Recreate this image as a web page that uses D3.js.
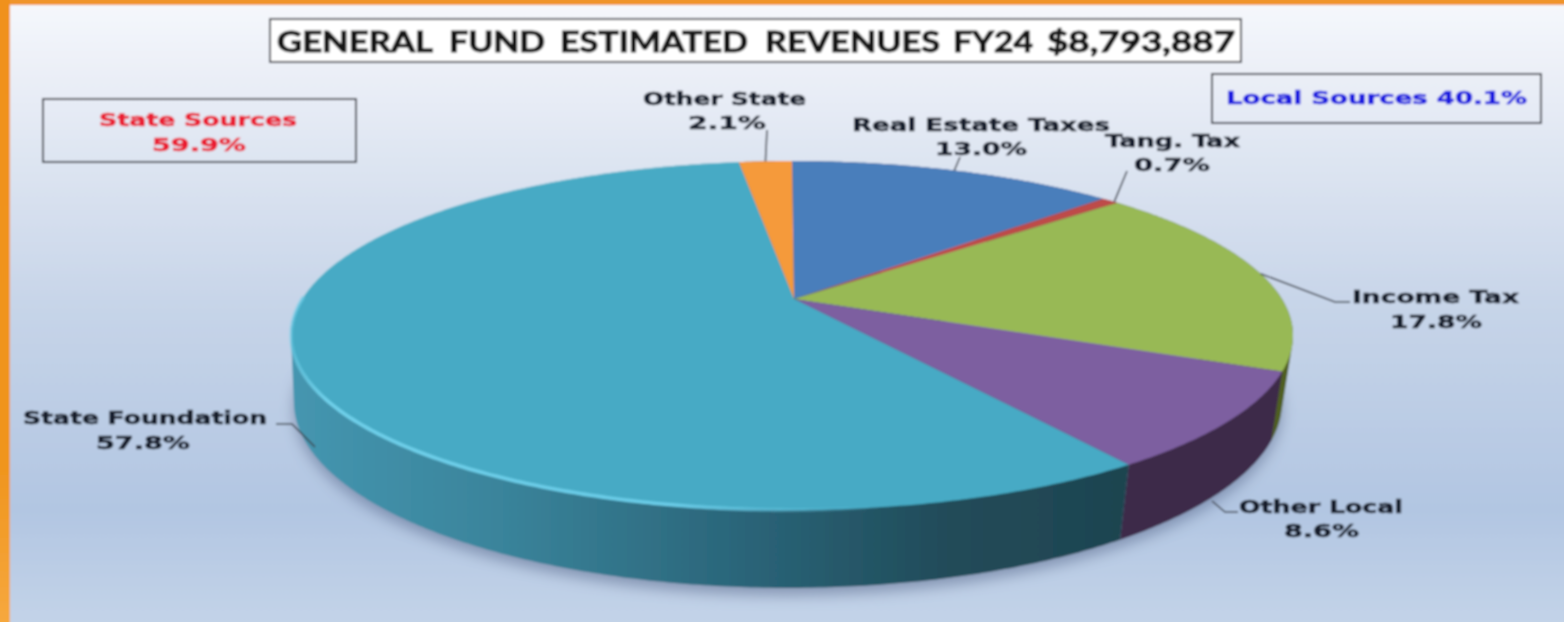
<!DOCTYPE html>
<html>
<head>
<meta charset="utf-8">
<script src="https://cdn.jsdelivr.net/npm/d3@7"></script>
<style>html,body{margin:0;padding:0;background:#fff;overflow:hidden}svg{display:block}text{white-space:pre}</style>
</head>
<body>
<svg id="chart" width="1564" height="622"></svg>
<script>
// ---------- data ----------
const categories = ["Real Estate Taxes", "Tang. Tax", "Income Tax", "Other Local", "State Foundation", "Other State"];
const shares = [13.0, 0.7, 17.8, 8.6, 57.8, 2.1];
const titleWords = ["GENERAL", "FUND", "ESTIMATED", "REVENUES", "FY24", "$8,793,887"];
const stateBox = ["State Sources", "59.9%"];
const localBox = ["Local Sources 40.1%"];

// ---------- styles ----------
const topColors = ["#4a7ebb", "#be4b48", "#98b954", "#7d5fa0", "#46aac5", "#f59a3a"];
const wallColors = ["#2c4b70", "#70302e", "#505f22", "#3c2a48", "url(#wallFoundation)", "#8f5a20"];

// ---------- layout ----------
const W = 1564, H = 622;
const K = 0.2149;                                   // perspective factor
const topRim = {x: 792, y: 298, sx: 489.3, sy: 166.4};
const baseRim = {x: 788, y: 362, sx: 482.5, sy: 177.4};
const apex = [794, 299];
const project = (rim, a) => {
  const t = a + 0.02 * Math.exp(-Math.pow((a - 2.5) / 0.5, 2));   // slight lens correction, lower right
  const u = Math.sin(t), v = Math.cos(t), d = 1 + K * v;
  return [rim.x + rim.sx * u / d, rim.y - rim.sy * v / d];
};
const titleLayout = [[277, 433], [449, 545], [560, 748], [765, 940], [953, 1033], [1047, 1235]];
const labelLayout = [
  {x0: 852, x1: 1110, y: 125, p0: 935, p1: 1027, py: 149},
  {x0: 1105, x1: 1240, y: 141, p0: 1134, p1: 1210, py: 165},
  {x0: 1352, x1: 1519, y: 297, p0: 1390, p1: 1482, py: 322},
  {x0: 1239, x1: 1403, y: 507, p0: 1284, p1: 1359, py: 531},
  {x0: 23, x1: 267, y: 418, p0: 96, p1: 190, py: 443},
  {x0: 643, x1: 806, y: 99, p0: 688, p1: 766, py: 123}
];
const leaderLayout = [
  {rim: true, pts: [[960, 157]]},
  {rim: true, shift: 0.012, pts: [[1127, 171]]},
  {rim: true, pts: [[1335, 302], [1350, 302]]},
  {rim: false, pts: [[1212, 501], [1225, 512], [1238, 512]]},
  {rim: false, pts: [[315, 447], [292, 424], [276, 424]]},
  {rim: true, pts: [[767, 130]]}
];

// ---------- drawing ----------
const svg = d3.select("#chart");
const defs = svg.append("defs");

const gradient = (id, attrs, stops) => {
  const g = defs.append("linearGradient").attr("id", id).attr("gradientUnits", "userSpaceOnUse");
  Object.entries(attrs).forEach(([k, v]) => g.attr(k, v));
  stops.forEach(s => g.append("stop").attr("offset", s[0]).attr("stop-color", s[1]).attr("stop-opacity", s[2] === undefined ? 1 : s[2]));
};
gradient("bg", {x1: 0, y1: 0, x2: 0, y2: H}, [[0, "#f6f8fc"], [0.17, "#e6ebf5"], [0.5, "#c6d4e8"], [0.82, "#b2c6e2"], [1, "#c3d3e8"]]);
gradient("frame", {x1: 0, y1: 0, x2: 0, y2: H}, [[0, "#f0911c"], [0.75, "#f0951e"], [1, "#f6a83e"]]);
gradient("wallFoundation", {x1: 291, y1: 0, x2: 1125, y2: 0},
  [[0, "#4596b0"], [0.25, "#3a849b"], [0.55, "#2a6478"], [0.78, "#214c5a"], [1, "#1f4450"]]);
gradient("rimGlow", {x1: 291, y1: 0, x2: 880, y2: 0},
  [[0, "#6fd0ea", 0.5], [0.06, "#6fd0ea"], [0.65, "#6accE8"], [1, "#6acce8", 0]]);

defs.append("filter").attr("id", "soft").attr("x", "-2%").attr("y", "-2%").attr("width", "104%").attr("height", "104%")
  .append("feGaussianBlur").attr("stdDeviation", 1);
defs.append("filter").attr("id", "shadow").attr("x", "-10%").attr("y", "-20%").attr("width", "120%").attr("height", "140%")
  .append("feGaussianBlur").attr("stdDeviation", 7);

const root = svg.append("g").attr("filter", "url(#soft)");

root.append("rect").attr("x", -6).attr("y", -6).attr("width", W + 12).attr("height", H + 12).attr("fill", "url(#bg)");
root.append("rect").attr("x", -6).attr("y", -6).attr("width", W + 12).attr("height", 11).attr("fill", "#f0942a");
root.append("rect").attr("x", -6).attr("y", -6).attr("width", 16).attr("height", H + 12).attr("fill", "url(#frame)");

const pie = d3.pie().sort(null).value(d => d).startAngle(0).endAngle(2 * Math.PI);
const arcs = pie(shares);
const line = d3.line();
const sample = (a0, a1) => {
  const n = Math.max(2, Math.ceil((a1 - a0) / 0.01));
  return d3.range(n + 1).map(i => a0 + (a1 - a0) * i / n);
};
const rimPath = (rim, a0, a1) => sample(a0, a1).map(a => project(rim, a));

// shadow beneath the pie
root.append("path")
  .attr("d", line(rimPath({...baseRim, y: baseRim.y + 7}, 0, 2 * Math.PI)) + "Z")
  .attr("fill", "#4f5f82").attr("opacity", 0.5).attr("filter", "url(#shadow)");

// side walls: convex hull of the slice's top and base rims, so the silhouette stays tangent
root.append("g").selectAll("path").data(arcs).join("path")
  .attr("d", d => line(d3.polygonHull(rimPath(topRim, d.startAngle, d.endAngle).concat(rimPath(baseRim, d.startAngle, d.endAngle)))) + "Z")
  .attr("fill", (d, i) => wallColors[i]);

// top faces
root.append("g").selectAll("path").data(arcs).join("path")
  .attr("d", d => line([apex].concat(rimPath(topRim, d.startAngle, d.endAngle))) + "Z")
  .attr("fill", (d, i) => topColors[i]);

// rim highlight on the large slice
const big = arcs[4];
root.append("path")
  .attr("d", line(rimPath(topRim, big.startAngle, 4.72)))
  .attr("fill", "none").attr("stroke", "url(#rimGlow)").attr("stroke-width", 3.6);
root.append("path")
  .attr("d", line(rimPath(topRim, 4.72, big.endAngle)))
  .attr("fill", "none").attr("stroke", "#c4e6f2").attr("stroke-width", 1.2).attr("opacity", 0.45);

// leaders
root.append("g").selectAll("path").data(arcs).join("path")
  .attr("d", (d, i) => {
    const l = leaderLayout[i];
    const mid = (d.startAngle + d.endAngle) / 2 + (l.shift || 0);
    return line(l.rim ? [project(topRim, mid), ...l.pts] : l.pts);
  })
  .attr("fill", "none").attr("stroke", "#3f454e").attr("stroke-width", 1.6);

// fits a string exactly between x0 and x1 (the picture is horizontally stretched)
const stretched = (parent, text, x0, x1, y, size, fill, family, weight, heavy) =>
  parent.append("text").text(text)
    .attr("x", x0).attr("y", y).attr("dy", "0.36em")
    .attr("textLength", x1 - x0).attr("lengthAdjust", "spacingAndGlyphs")
    .attr("font-family", family).attr("font-size", size).attr("font-weight", weight).attr("fill", fill)
    .attr("stroke", fill).attr("stroke-width", heavy);

const labelFont = "'DejaVu Sans', sans-serif";
const labels = root.append("g");
arcs.forEach((d, i) => {
  const l = labelLayout[i];
  stretched(labels, categories[i], l.x0, l.x1, l.y, 17, "#141c2a", labelFont, "bold", 0.5);
  stretched(labels, d.data.toFixed(1) + "%", l.p0, l.p1, l.py, 17, "#141c2a", labelFont, "bold", 0.5);
});

// boxes
const box = (x0, y0, x1, y1, fill) => root.append("rect")
  .attr("x", x0).attr("y", y0).attr("width", x1 - x0).attr("height", y1 - y0)
  .attr("fill", fill).attr("stroke", "#3c4049").attr("stroke-width", 2);

box(270, 19, 1241, 62, "#ffffff");
titleWords.forEach((w, i) => stretched(root, w, titleLayout[i][0], titleLayout[i][1], 42, 29, "#141414", "Lato, 'Open Sans', sans-serif", "bold", 1));

box(43, 99, 356, 162, "none");
stretched(root, stateBox[0], 99, 297, 120, 17, "#ea1f32", labelFont, "bold", 0.5);
stretched(root, stateBox[1], 152, 246, 145, 17, "#ea1f32", labelFont, "bold", 0.5);

box(1212, 74, 1541, 123, "none");
stretched(root, localBox[0], 1226, 1527, 98, 17, "#1a1ae0", labelFont, "bold", 0.5);
</script>
</body>
</html>
